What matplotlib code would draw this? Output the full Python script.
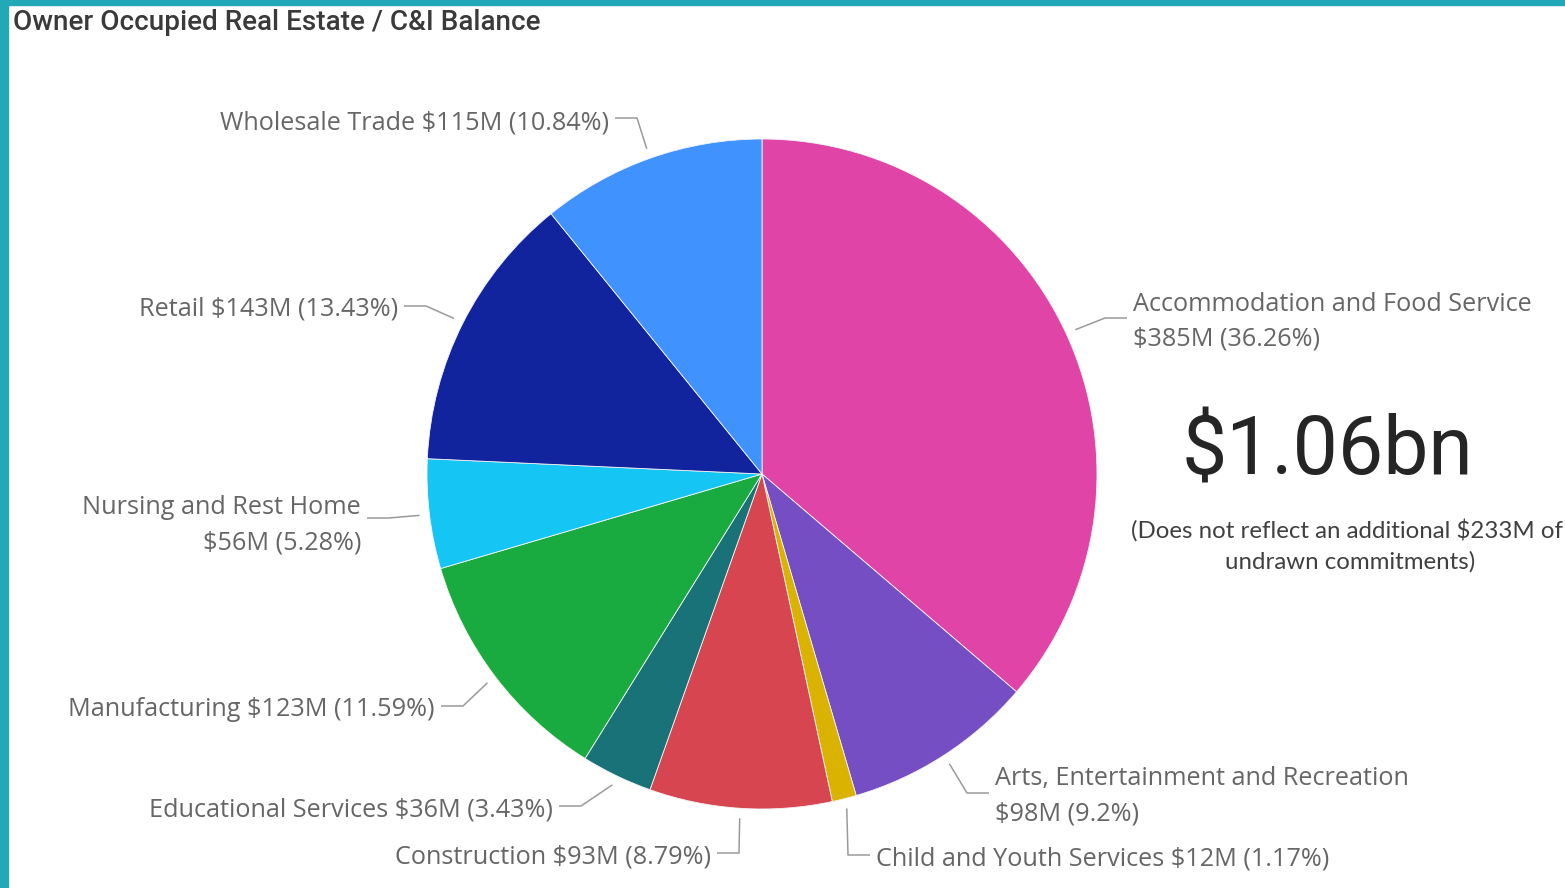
import numpy as np
import matplotlib
matplotlib.use("Agg")
import matplotlib.pyplot as plt

# ---- data ----
categories = ["Accommodation and Food Service", "Arts, Entertainment and Recreation",
              "Child and Youth Services", "Construction", "Educational Services",
              "Manufacturing", "Nursing and Rest Home", "Retail", "Wholesale Trade"]
values_m = [385, 98, 12, 93, 36, 123, 56, 143, 115]
percents = [36.26, 9.2, 1.17, 8.79, 3.43, 11.59, 5.28, 13.43, 10.84]
colors = ["#E044A7", "#744EC2", "#D9B300", "#D64550", "#197278",
          "#1AAB40", "#15C6F4", "#12239E", "#4092FF"]
total_text = "$1.06bn"
note_lines = ["(Does not reflect an additional $233M of", "undrawn commitments)"]
title = "Owner Occupied Real Estate / C&I Balance"

# label layout: (x, y of first line, ha, two_line, leader y)
label_layout = [
    (1133, 304, "left", True, 318),
    (995, 779, "left", True, 793),
    (876, 859, "left", False, 855),
    (711, 857, "right", False, 853),
    (553, 810, "right", False, 806),
    (435, 709, "right", False, 706),
    (361, 508, "right", True, 518),
    (398, 309, "right", False, 306),
    (609, 123, "right", False, 118),
]

W, H = 1565, 888
fig = plt.figure(figsize=(W / 100, H / 100), dpi=100)
ax = fig.add_axes([0, 0, 1, 1])

cx, cy, R = 762, 474, 335
wedges, _ = ax.pie(percents, colors=colors, startangle=-90, counterclock=True,
                   center=(cx, cy), radius=R,
                   wedgeprops=dict(linewidth=0.6, edgecolor="#f4f4f4"))
ax.set_xlim(0, W)
ax.set_ylim(H, 0)
ax.set_aspect("equal")
ax.axis("off")

# teal frame
ax.add_patch(plt.Rectangle((0, 0), 8, H, color="#22A9B7", clip_on=False))
ax.add_patch(plt.Rectangle((0, 0), W, 5, color="#22A9B7", clip_on=False))

ax.text(13, 22, title, fontsize=20.1, family="Roboto", fontweight="medium",
        color="#3a3a3a", ha="left", va="center")

lab_color = "#666666"
line_color = "#9a9a9a"
fs = 18.2
for w, cat, v, p, (tx, ty, ha, two, ly) in zip(wedges, categories, values_m,
                                               percents, label_layout):
    mid = np.deg2rad((w.theta1 + w.theta2) / 2)
    ex = cx + (R + 10) * np.cos(mid)
    ey = cy + (R + 10) * np.sin(mid)
    amount = f"${v}M ({p:g}%)"
    if two:
        ax.text(tx, ty, cat, ha=ha, va="center", fontsize=fs,
                family="Open Sans", color=lab_color)
        ax.text(tx, ty + 35, amount, ha=ha, va="center", fontsize=fs,
                family="Open Sans", color=lab_color)
    else:
        ax.text(tx, ty, f"{cat} {amount}", ha=ha, va="center", fontsize=fs,
                family="Open Sans", color=lab_color)
    if ha == "left":
        x0 = tx - 6
        xe = x0 - 22
    else:
        x0 = tx + 6
        xe = x0 + 22
    ax.plot([x0, xe, ex], [ly, ly, ey], color=line_color, lw=1.1,
            solid_capstyle="butt")

ax.text(1328, 452, total_text, fontsize=58, family="Roboto", color="#252525",
        ha="center", va="center")
ax.text(1347, 530, note_lines[0], fontsize=17.3, family="Lato", color="#404040",
        ha="center", va="center")
ax.text(1350, 562, note_lines[1], fontsize=17.3, family="Lato", color="#404040",
        ha="center", va="center")

fig.savefig("out.png", dpi=100, facecolor="white")
